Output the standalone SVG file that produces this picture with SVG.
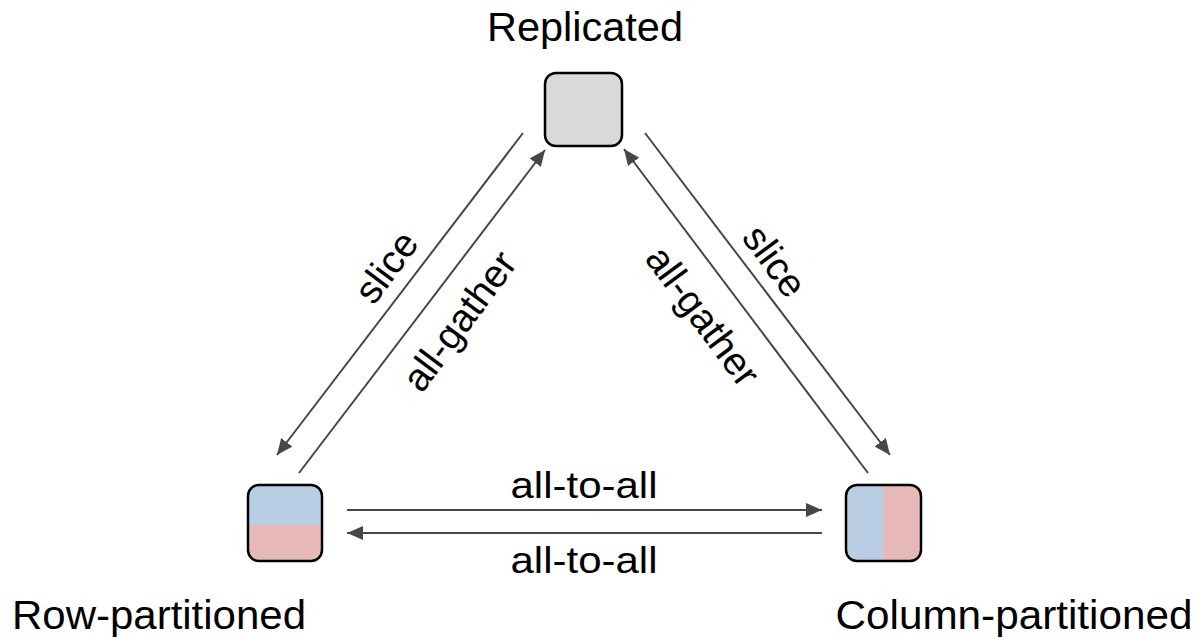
<svg xmlns="http://www.w3.org/2000/svg" width="1201" height="638" viewBox="0 0 1201 638">
<defs>
<style>
.box{stroke:#000;stroke-width:2.5;}
.lbl{font-family:"Liberation Sans",Arial,sans-serif;font-size:40px;fill:#000;text-anchor:middle;}
.elbl{font-family:"Liberation Sans",Arial,sans-serif;font-size:37px;fill:#000;text-anchor:middle;}
.dlbl{font-family:"Liberation Sans",Arial,sans-serif;font-size:39px;fill:#000;text-anchor:middle;}
.edge{stroke:#474747;stroke-width:2;fill:none;marker-end:url(#ah);}
</style>
<marker id="ah" markerUnits="userSpaceOnUse" markerWidth="17" markerHeight="14" refX="16" refY="7" orient="auto">
<path d="M0,0 L16,7 L0,14 z" fill="#474747"/>
</marker>
<clipPath id="clipRow"><rect x="248" y="485" width="74" height="76" rx="11"/></clipPath>
<clipPath id="clipCol"><rect x="846" y="485" width="75" height="76" rx="11"/></clipPath>
</defs>
<rect width="1201" height="638" fill="#fff"/>

<g id="connectors">
<line class="edge" x1="523" y1="133" x2="277" y2="455"/>
<line class="edge" x1="299" y1="473" x2="545" y2="150"/>
<line class="edge" x1="645" y1="133" x2="890" y2="455"/>
<line class="edge" x1="868" y1="473" x2="624" y2="149"/>
<line class="edge" x1="347" y1="510" x2="822" y2="510"/>
<line class="edge" x1="822" y1="533" x2="347" y2="533"/>
<text class="dlbl" transform="translate(397,275) rotate(-53.5)">slice</text>
<text class="dlbl" transform="translate(470,329) rotate(-53.5)">all-gather</text>
<text class="dlbl" transform="translate(764,269) rotate(53.5)">slice</text>
<text class="dlbl" transform="translate(692,324) rotate(53.5)">all-gather</text>
<text class="elbl" x="584" y="498" textLength="147" lengthAdjust="spacingAndGlyphs">all-to-all</text>
<text class="elbl" x="584" y="573" textLength="147" lengthAdjust="spacingAndGlyphs">all-to-all</text>
</g>

<g id="replicated">
<rect class="box" x="545" y="73" width="77" height="73" rx="11" fill="#d9d9d9"/>
<text class="lbl" x="585" y="41" textLength="196" lengthAdjust="spacingAndGlyphs">Replicated</text>
</g>

<g id="row-partitioned">
<g clip-path="url(#clipRow)">
<rect x="248" y="485" width="74" height="40" fill="#b9cde5"/>
<rect x="248" y="525" width="74" height="36" fill="#e6b9b8"/>
</g>
<rect class="box" x="248" y="485" width="74" height="76" rx="11" fill="none"/>
<text class="lbl" x="159" y="629" textLength="294" lengthAdjust="spacingAndGlyphs">Row-partitioned</text>
</g>

<g id="column-partitioned">
<g clip-path="url(#clipCol)">
<rect x="846" y="485" width="37" height="76" fill="#b9cde5"/>
<rect x="883" y="485" width="38" height="76" fill="#e6b9b8"/>
</g>
<rect class="box" x="846" y="485" width="75" height="76" rx="11" fill="none"/>
<text class="lbl" x="1014" y="629" textLength="357" lengthAdjust="spacingAndGlyphs">Column-partitioned</text>
</g>
</svg>
